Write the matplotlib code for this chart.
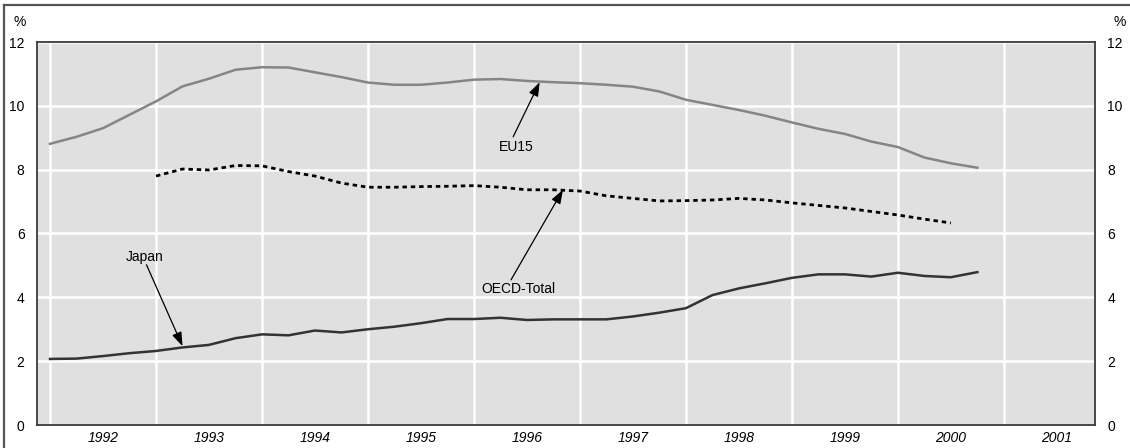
import numpy as np
import matplotlib
matplotlib.use("Agg")
from matplotlib import pyplot as plt
from matplotlib.lines import Line2D

plt.rcParams['font.family'] = ['Liberation Sans', 'DejaVu Sans']

# quarterly series
eu15_start = 1992.0
eu15 = [8.81, 9.03, 9.30, 9.72, 10.14, 10.61, 10.85, 11.13,
        11.21, 11.20, 11.05, 10.90, 10.73, 10.66, 10.66, 10.73,
        10.82, 10.84, 10.78, 10.74, 10.71, 10.66, 10.60, 10.45,
        10.19, 10.03, 9.87, 9.69, 9.48, 9.28, 9.12, 8.88,
        8.71, 8.38, 8.20, 8.06]

oecd_start = 1993.0
oecd = [7.80, 8.02, 7.99, 8.13, 8.12, 7.94, 7.80, 7.58,
        7.45, 7.45, 7.47, 7.48, 7.50, 7.45, 7.37, 7.37,
        7.33, 7.18, 7.10, 7.02, 7.03, 7.05, 7.10, 7.05,
        6.96, 6.88, 6.80, 6.69, 6.58, 6.45, 6.33]

japan_start = 1992.0
japan = [2.07, 2.08, 2.16, 2.25, 2.32, 2.43, 2.51, 2.72,
         2.84, 2.81, 2.96, 2.90, 3.00, 3.08, 3.19, 3.32,
         3.32, 3.36, 3.29, 3.31, 3.31, 3.31, 3.40, 3.52,
         3.66, 4.07, 4.28, 4.44, 4.61, 4.72, 4.72, 4.65,
         4.77, 4.67, 4.63, 4.79]

years = list(range(1992, 2002))
yticks = [0, 2, 4, 6, 8, 10, 12]

BG = '#e0e0e0'
EDGE = '#3a3a3a'
FS = 10

fig = plt.figure(figsize=(11.3, 4.48), dpi=100)
ax = fig.add_axes([37/1130, 23/448, 1058/1130, 383/448])
ax.set_facecolor(BG)

def qx(start, vals):
	return start + 0.25*np.arange(len(vals))

ax.plot(qx(eu15_start, eu15), eu15, color='#858585', lw=1.8, zorder=3)
ax.plot(qx(oecd_start, oecd), oecd, color='black', lw=2.0,
        linestyle=(0, (1.6, 1.4)), dash_capstyle='butt', zorder=3)
ax.plot(qx(japan_start, japan), japan, color='#333333', lw=1.8, zorder=3)

ax.set_xlim(1991.877, 2001.86)
ax.set_ylim(0, 12)

# gridlines at year boundaries, labels mid-year
ax.set_xticks(years)
ax.set_xticklabels([])
ax.set_xticks([y + 0.5 for y in years], minor=True)
ax.set_xticklabels([str(y) for y in years], minor=True, style='italic', fontsize=FS)
ax.set_yticks(yticks)
ax.set_yticklabels([str(v) for v in yticks], fontsize=FS)
ax.tick_params(axis='both', which='both', length=0)
ax.tick_params(axis='x', which='minor', pad=4)
ax.tick_params(axis='y', labelright=True, pad=9)
ax.grid(True, which='major', color='white', lw=1.8)
ax.set_axisbelow(True)
for s in ax.spines.values():
	s.set_color(EDGE)
	s.set_linewidth(1.3)

# annotations
arr = dict(arrowstyle='-|>,head_length=0.7,head_width=0.25', color='black',
           lw=0.9, mutation_scale=12, shrinkA=0, shrinkB=0)
ax.annotate('', xy=(1996.62, 10.74), xytext=(1996.37, 9.03), arrowprops=arr, zorder=5)
ax.text(1996.40, 8.71, 'EU15', ha='center', va='center', fontsize=FS)
ax.annotate('', xy=(1996.84, 7.37), xytext=(1996.35, 4.55), arrowprops=arr, zorder=5)
ax.text(1996.42, 4.26, 'OECD-Total', ha='center', va='center', fontsize=FS)
ax.annotate('', xy=(1993.25, 2.47), xytext=(1992.91, 5.02), arrowprops=arr, zorder=5)
ax.text(1992.89, 5.27, 'Japan', ha='center', va='center', fontsize=FS)

# unit labels
fig.text(20/1130, 1 - 22/448, '%', ha='center', va='center', fontsize=FS)
fig.text(1120/1130, 1 - 22/448, '%', ha='center', va='center', fontsize=FS)

# frame around figure (top and left)
fig.add_artist(Line2D([4/1130, 1], [1 - 5/448, 1 - 5/448], color='#555555', lw=1.6))
fig.add_artist(Line2D([4/1130, 4/1130], [0, 1 - 5/448], color='#555555', lw=1.6))

plt.savefig('out.png', dpi=100)
